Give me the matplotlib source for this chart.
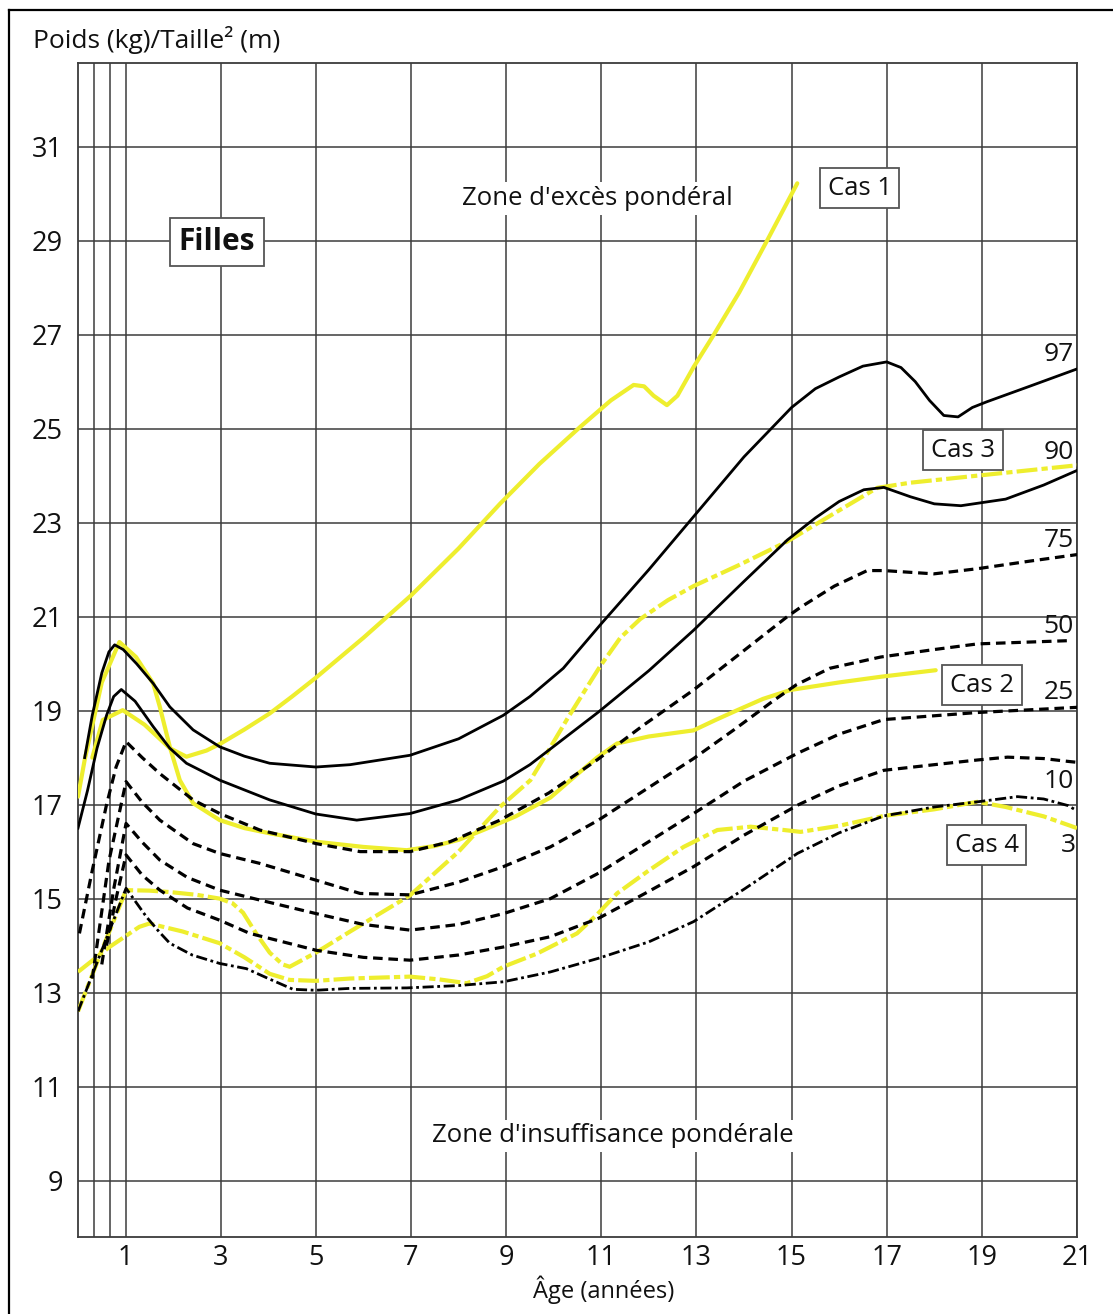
import matplotlib
matplotlib.use('Agg')
import matplotlib.pyplot as plt
from matplotlib.lines import Line2D

plt.rcParams['font.family'] = ['Open Sans', 'DejaVu Sans']

# percentile curves (age in years, BMI)
p97_x = [0.14, 0.3, 0.5, 0.65, 0.77, 0.95, 1.23, 1.58, 1.93, 2.42, 2.98, 3.5, 4.03, 5.0, 5.72, 6.98, 8.0, 8.94,
         9.5, 10.2, 11.0, 12.0, 13.0, 14.0, 15.0, 15.5, 16.0, 16.5, 17.0, 17.3, 17.6, 17.9, 18.2, 18.5, 18.8,
         19.1, 20.0, 21.0]
p97_y = [18.0, 18.9, 19.8, 20.25, 20.4, 20.3, 20.0, 19.58, 19.08, 18.59, 18.23, 18.03, 17.88, 17.8, 17.85, 18.05, 18.4, 18.9,
         19.3, 19.9, 20.85, 22.0, 23.2, 24.4, 25.45, 25.85, 26.1, 26.33, 26.42, 26.3, 26.0, 25.6, 25.28, 25.25, 25.45,
         25.57, 25.9, 26.27]

p90_x = [0.0, 0.2, 0.4, 0.6, 0.75, 0.91, 1.2, 1.58, 1.93, 2.28, 2.98, 4.03, 5.0, 5.86, 6.98, 8.0, 8.94, 9.5,
         10.94, 12.0, 12.94, 14.0, 14.91, 15.5, 16.0, 16.52, 16.94, 17.5, 18.0, 18.56, 19.5, 20.3, 21.0]
p90_y = [16.5, 17.3, 18.2, 18.9, 19.3, 19.45, 19.2, 18.66, 18.2, 17.88, 17.52, 17.1, 16.8, 16.67, 16.81, 17.1, 17.5, 17.85,
         18.97, 19.85, 20.71, 21.75, 22.63, 23.1, 23.45, 23.7, 23.75, 23.55, 23.4, 23.36, 23.5, 23.8, 24.11]

p75_x = [0.03, 0.3, 0.6, 0.8, 1.01, 1.35, 1.72, 2.42, 2.98, 3.82, 5.01, 5.93, 6.98, 7.82, 8.87, 9.9, 10.91,
         11.9, 12.94, 13.9, 14.91, 15.19, 15.9, 16.59, 16.94, 17.99, 18.91, 20.0, 21.0]
p75_y = [14.26, 15.6, 17.0, 17.8, 18.34, 18.0, 17.66, 17.1, 16.81, 16.46, 16.17, 16.0, 16.0, 16.21, 16.67, 17.25, 17.95,
         18.7, 19.44, 20.2, 21.0, 21.2, 21.65, 21.98, 21.98, 21.91, 22.02, 22.18, 22.32]

p50_x = [0.3, 0.65, 1.01, 1.35, 1.72, 2.42, 2.98, 3.82, 5.01, 5.93, 6.98, 8.0, 8.94, 9.93, 10.94, 11.9, 12.94,
         13.8, 14.63, 15.1, 15.8, 16.87, 18.0, 18.91, 20.86]
p50_y = [13.3, 15.8, 17.49, 17.05, 16.67, 16.17, 15.96, 15.75, 15.39, 15.11, 15.08, 15.35, 15.68, 16.1, 16.67, 17.3, 17.98,
         18.6, 19.22, 19.55, 19.9, 20.14, 20.3, 20.42, 20.49]

p25_x = [0.5, 0.75, 1.01, 1.35, 1.72, 2.3, 2.98, 3.82, 5.01, 6.0, 6.98, 8.0, 8.94, 9.93, 10.94, 11.9, 12.94,
         14.0, 15.12, 16.0, 16.94, 18.91, 21.0]
p25_y = [13.6, 15.2, 16.6, 16.2, 15.82, 15.45, 15.18, 14.97, 14.68, 14.45, 14.33, 14.45, 14.68, 15.0, 15.54, 16.15, 16.81,
         17.5, 18.09, 18.5, 18.81, 18.96, 19.07]

p10_x = [0.6, 0.8, 1.01, 1.35, 1.72, 2.3, 2.98, 3.61, 5.01, 6.0, 6.98, 8.0, 8.94, 9.93, 10.94, 11.9, 12.94,
         14.0, 15.15, 16.0, 16.94, 18.0, 18.91, 19.54, 20.3, 20.81, 21.0]
p10_y = [14.0, 15.0, 15.93, 15.5, 15.18, 14.8, 14.54, 14.26, 13.9, 13.75, 13.69, 13.8, 13.97, 14.19, 14.58, 15.1, 15.68,
         16.35, 17.0, 17.4, 17.73, 17.85, 17.95, 18.01, 17.98, 17.92, 17.9]

p3_x = [0.0, 0.5, 1.01, 1.2, 1.44, 1.7, 1.93, 2.4, 2.98, 3.54, 4.0, 4.52, 5.0, 5.72, 6.91, 8.0, 8.94, 9.93,
        10.94, 12.0, 12.94, 14.0, 15.12, 16.0, 16.94, 18.0, 18.91, 19.75, 20.3, 20.81, 21.0]
p3_y = [12.6, 13.9, 15.22, 14.95, 14.61, 14.3, 14.05, 13.8, 13.62, 13.51, 13.3, 13.07, 13.05, 13.09, 13.1, 13.15, 13.23, 13.44,
        13.73, 14.08, 14.51, 15.2, 15.96, 16.4, 16.76, 16.95, 17.06, 17.17, 17.12, 16.98, 16.87]

# the four cases
cas1_x = [0.3, 0.52, 0.94, 1.4, 1.93, 2.28, 2.7, 3.0, 3.5, 4.03, 4.5, 5.0, 6.0, 7.0, 8.0, 8.87, 9.7, 10.56,
          11.2, 11.68, 11.9, 12.1, 12.38, 12.6, 12.94, 13.36, 13.9, 14.49, 15.12]
cas1_y = [18.0, 18.8, 19.01, 18.7, 18.2, 18.02, 18.15, 18.3, 18.6, 18.94, 19.3, 19.7, 20.55, 21.45, 22.45, 23.4, 24.25, 25.04,
          25.6, 25.93, 25.9, 25.7, 25.5, 25.7, 26.31, 26.99, 27.9, 29.01, 30.22]

cas2_x = [0.0, 0.14, 0.5, 0.87, 1.22, 1.58, 1.72, 1.93, 2.14, 2.42, 2.98, 3.5, 4.03, 5.01, 6.0, 6.91, 7.5, 8.0,
          8.52, 9.2, 9.93, 10.5, 10.91, 11.33, 12.0, 12.94, 13.4, 13.86, 14.4, 14.98, 16.0, 16.87, 18.03]
cas2_y = [17.17, 17.95, 19.6, 20.46, 20.14, 19.58, 19.08, 18.23, 17.52, 17.03, 16.67, 16.5, 16.39, 16.21, 16.1, 16.03, 16.12, 16.25,
          16.46, 16.75, 17.15, 17.65, 18.0, 18.3, 18.45, 18.58, 18.8, 19.01, 19.25, 19.44, 19.6, 19.72, 19.86]

cas3_x = [0.0, 0.5, 1.01, 1.5, 1.93, 2.5, 2.98, 3.25, 3.47, 3.75, 4.03, 4.3, 4.45, 5.0, 5.72, 6.98, 8.0, 8.87,
          9.51, 9.86, 10.3, 10.7, 10.98, 11.4, 11.82, 12.4, 12.94, 13.9, 14.91, 15.9, 16.8, 17.5, 18.91, 21.0]
cas3_y = [12.6, 13.9, 15.18, 15.17, 15.14, 15.08, 15.0, 14.9, 14.7, 14.25, 13.85, 13.6, 13.55, 13.85, 14.3, 15.07, 16.0, 16.95,
          17.52, 18.1, 18.85, 19.5, 19.95, 20.55, 20.95, 21.35, 21.65, 22.1, 22.6, 23.2, 23.74, 23.85, 24.0, 24.22]

cas4_x = [0.0, 0.66, 1.29, 1.5, 2.2, 2.98, 3.5, 4.03, 4.45, 5.0, 5.72, 6.98, 7.6, 8.17, 8.6, 8.94, 9.65, 10.49,
          10.9, 11.33, 12.0, 12.73, 13.44, 14.14, 14.84, 15.19, 16.0, 16.94, 18.0, 18.91, 19.5, 20.3, 21.0]
cas4_y = [13.44, 13.97, 14.4, 14.47, 14.3, 14.05, 13.75, 13.4, 13.27, 13.25, 13.3, 13.34, 13.28, 13.2, 13.35, 13.55, 13.83, 14.26,
          14.65, 15.11, 15.6, 16.1, 16.46, 16.53, 16.46, 16.42, 16.55, 16.76, 16.9, 17.06, 16.95, 16.75, 16.5]

pct_labels = ['97', '90', '75', '50', '25', '10', '3']
pct_label_y = [26.58, 24.5, 22.63, 20.8, 19.38, 17.5, 16.14]

x_ticks = list(range(1, 22, 2))
y_ticks = list(range(9, 32, 2))

yellow = '#eeee2e'
grid_c = '#3c3c3c'
txt_c = '#111111'

fig = plt.figure(figsize=(11.13, 13.14), dpi=100)
ax = fig.add_axes([78 / 1113, 1 - 1237 / 1314, (1077 - 78) / 1113, (1237 - 63) / 1314])
ax.set_xlim(0, 21)
ax.set_ylim(7.8, 32.78)

for xv in [1 / 3, 2 / 3] + x_ticks:
    ax.axvline(xv, color=grid_c, lw=1.1, zorder=1)
for yv in y_ticks:
    ax.axhline(yv, color=grid_c, lw=1.1, zorder=1)
for s in ax.spines.values():
    s.set_color(grid_c)
    s.set_linewidth(1.3)

ax.set_xticks(x_ticks)
ax.set_yticks(y_ticks)
ax.tick_params(length=0, labelsize=19.5, colors=txt_c)
ax.tick_params(axis='x', pad=5)
ax.tick_params(axis='y', pad=11)

ylw = 3.0
# yellow cases under the black percentiles
ax.plot(cas1_x, cas1_y, color=yellow, lw=ylw, zorder=3, solid_capstyle='round')
ax.plot(cas2_x, cas2_y, color=yellow, lw=ylw, zorder=3, solid_capstyle='round')
ax.plot(cas3_x, cas3_y, color=yellow, lw=ylw, zorder=3, dashes=(5, 1, 1.5, 1))
ax.plot(cas4_x, cas4_y, color=yellow, lw=ylw, zorder=3, dashes=(5, 1, 1.5, 1))

ax.plot(p97_x, p97_y, color='black', lw=2.0, zorder=4)
ax.plot(p90_x, p90_y, color='black', lw=2.0, zorder=4)
for xs, ys in [(p75_x, p75_y), (p50_x, p50_y), (p25_x, p25_y), (p10_x, p10_y)]:
    ax.plot(xs, ys, color='black', lw=2.3, dashes=(3, 1.8), zorder=4)
ax.plot(p3_x, p3_y, color='black', lw=2.0, dashes=(4, 1.3, 1, 1.3), zorder=4)

for lab, yv in zip(pct_labels, pct_label_y):
    ax.text(20.62 if lab != '3' else 20.82, yv, lab, fontsize=19, color=txt_c, ha='center', va='center', zorder=6)

box = dict(boxstyle='square,pad=0.3', fc='white', ec='#555555', lw=1.3)
ax.text(2.92, 28.97, 'Filles', fontsize=21.5, fontweight='bold', color=txt_c, ha='center', va='center', bbox=box, zorder=6)
ax.text(16.43, 30.12, 'Cas 1', fontsize=18.5, color=txt_c, ha='center', va='center', bbox=box, zorder=6)
ax.text(18.6, 24.54, 'Cas 3', fontsize=18.5, color=txt_c, ha='center', va='center', bbox=box, zorder=6)
ax.text(19.0, 19.54, 'Cas 2', fontsize=18.5, color=txt_c, ha='center', va='center', bbox=box, zorder=6)
ax.text(19.1, 16.14, 'Cas 4', fontsize=18.5, color=txt_c, ha='center', va='center', bbox=box, zorder=6)

zone_bg = dict(boxstyle='square,pad=0.15', fc='white', ec='none')
ax.text(10.92, 29.9, "Zone d'excès pondéral", fontsize=18.5, color=txt_c, ha='center', va='center', bbox=zone_bg, zorder=5)
ax.text(11.25, 9.95, "Zone d'insuffisance pondérale", fontsize=18.5, color=txt_c, ha='center', va='center', bbox=zone_bg, zorder=5)

fig.text(33 / 1113, 1 - 40 / 1314, 'Poids (kg)/Taille² (m)', fontsize=19, color=txt_c, ha='left', va='center')
fig.text(604 / 1113, 1 - 1290 / 1314, 'Âge (années)', fontsize=17, color=txt_c, ha='center', va='center')

# outer frame (left and top edges only are visible)
fig.add_artist(Line2D([9 / 1113, 9 / 1113], [0, 1 - 10 / 1314], color='black', lw=1.6))
fig.add_artist(Line2D([9 / 1113, 1], [1 - 10 / 1314, 1 - 10 / 1314], color='black', lw=1.6))

fig.savefig('out.png', dpi=100)
